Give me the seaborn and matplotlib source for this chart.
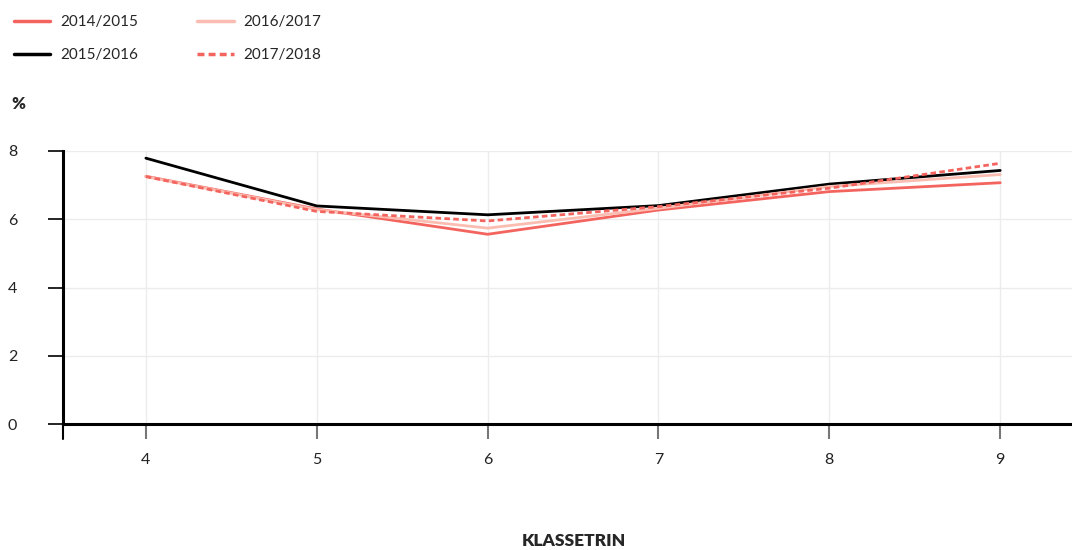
import pandas as pd
import matplotlib
matplotlib.use("Agg")
import matplotlib.pyplot as plt
import seaborn as sns

# Values (percent per grade)
klassetrin = [4, 5, 6, 7, 8, 9]
aar_2014_2015 = [7.26, 6.30, 5.56, 6.27, 6.81, 7.07]
aar_2015_2016 = [7.79, 6.39, 6.13, 6.40, 7.03, 7.43]
aar_2016_2017 = [7.25, 6.28, 5.74, 6.32, 6.96, 7.31]
aar_2017_2018 = [7.25, 6.23, 5.95, 6.37, 6.91, 7.64]
series_names = ["2014/2015", "2015/2016", "2016/2017", "2017/2018"]
y_ticks = [0, 2, 4, 6, 8]

colors = {"2014/2015": "#f4645f", "2015/2016": "#000000",
          "2016/2017": "#fbbdb1", "2017/2018": "#f4645f"}
dashes = {"2014/2015": "", "2015/2016": "", "2016/2017": "", "2017/2018": (2.0, 1.2)}

rows = []
for name, vals in zip(series_names, [aar_2014_2015, aar_2015_2016, aar_2016_2017, aar_2017_2018]):
    for k, v in zip(klassetrin, vals):
        rows.append({"Klassetrin": k, "Andel": v, "Skoleår": name})
df = pd.DataFrame(rows)

sns.set_style("white")
plt.rcParams['font.family'] = ['Lato', 'DejaVu Sans']

fig = plt.figure(figsize=(10.72, 5.5), dpi=100)
ax = fig.add_axes([63 / 1072, 1 - 424 / 550, 1 - 63 / 1072, (424 - 151) / 550])

sns.lineplot(data=df, x="Klassetrin", y="Andel", hue="Skoleår", style="Skoleår",
             palette=colors, dashes=dashes, hue_order=series_names,
             style_order=series_names, linewidth=2.0, ax=ax, legend=False)

ax.set_xlim(3.515, 9.42)
ax.set_ylim(0, 8)
ax.set_xticks(klassetrin)
ax.set_yticks(y_ticks)
ax.grid(True, color="#ececec", linewidth=1.0)
ax.set_axisbelow(True)

for side in ["top", "right"]:
    ax.spines[side].set_visible(False)
ax.spines["left"].set_linewidth(2.2)
ax.spines["bottom"].set_linewidth(2.2)
ax.spines["left"].set_color("black")
ax.spines["bottom"].set_color("black")

ax.tick_params(axis="x", bottom=True, direction="out", length=11, width=1.5, color="#777777",
               pad=10, labelsize=11.5, labelcolor="#222222")
ax.tick_params(axis="y", left=True, direction="out", length=11, width=1.2, color="black",
               pad=22, labelsize=11.5, labelcolor="#222222")
ax.set_xlabel("")
ax.set_ylabel("")

# extra black tick under the y-axis origin
ax.plot([3.515, 3.515], [0, -0.45], color="black", linewidth=1.5, clip_on=False)

fig.text(18 / 1072, 1 - 104 / 550, "%", fontsize=12, fontweight="heavy", ha="center", va="center")
fig.text(574 / 1072, 1 - 541 / 550, "KLASSETRIN", fontsize=12.5, fontweight="heavy",
         ha="center", va="center")

handles = []
for name in series_names:
    ls = (0, dashes[name]) if dashes[name] else "-"
    h, = ax.plot([], [], color=colors[name], linewidth=2.5, linestyle=ls)
    handles.append(h)
fig.legend(handles, series_names, loc="upper left", bbox_to_anchor=(0.0, 0.998),
           ncol=2, frameon=False, fontsize=11, handlelength=2.4, handletextpad=0.65,
           columnspacing=3.85, labelspacing=1.25)

fig.savefig("out.png", dpi=100)
